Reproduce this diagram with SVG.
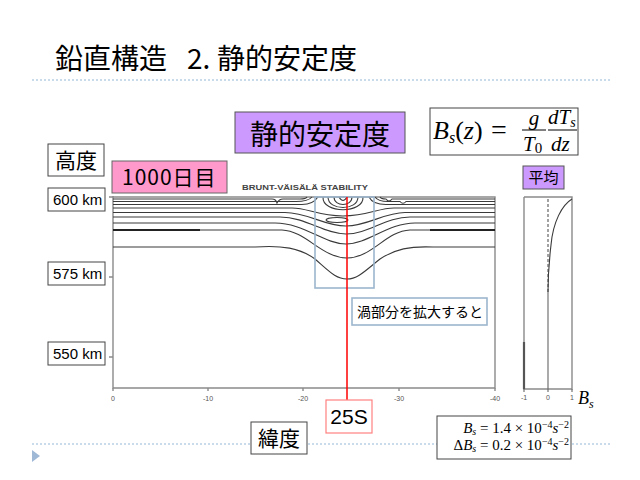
<svg xmlns="http://www.w3.org/2000/svg" width="640" height="480" viewBox="0 0 640 480">
<style>
.jp{font-family:"Noto Sans CJK JP","Noto Sans",sans-serif;fill:#000}
.sans{font-family:"Liberation Sans",Arial,sans-serif;fill:#000}
.math{font-family:"Liberation Serif","DejaVu Serif",serif;fill:#000}
.it{font-style:italic}
.box{fill:#fff;stroke:#444;stroke-width:1}
.purple{fill:#cc99ff;stroke:#555;stroke-width:1}
.pink{fill:#ff99cc;stroke:#666;stroke-width:1}
.bluebox{fill:none;stroke:#9db6cf;stroke-width:1.6}
.dots{stroke:#b9d0e6;stroke-width:1.4;stroke-dasharray:2 2;fill:none}
.axis{stroke:#8a8a8a;stroke-width:1.4;fill:none}
.ct{stroke:#3a3a3a;stroke-width:1.1;fill:none}
.tick{font-family:"Liberation Sans",Arial,sans-serif;font-size:7px;fill:#555;text-anchor:middle}
</style>
<rect width="640" height="480" fill="#fff"/>
<line class="dots" x1="32" y1="80" x2="612" y2="80"/>
<line class="dots" x1="32" y1="444" x2="612" y2="444"/>
<polygon points="32,450 40,456 32,462" fill="#9fb8d6"/>
<g id="title">
<text class="jp" x="55" y="69" font-size="28">鉛直構造</text>
<text class="jp" x="187" y="69" font-size="28">2.</text>
<text class="jp" x="217" y="69" font-size="28">静的安定度</text>
</g>
<g id="plot">
<path class="axis" d="M113,196 V388 H495 V197 H113"/>
<path class="axis" d="M109,197 H113 M109,277 H113 M109,357 H113 M113,388 V391 M208,388 V391 M303,388 V391 M399,388 V391 M495,388 V391"/>
<text class="tick" x="113" y="401">0</text>
<text class="tick" x="208" y="401">-10</text>
<text class="tick" x="303" y="401">-20</text>
<text class="tick" x="399" y="401">-30</text>
<text class="tick" x="495" y="401">-40</text>
<text x="242" y="190" font-family="Liberation Sans,Arial,sans-serif" font-size="7" font-weight="bold" fill="#444" textLength="126" lengthAdjust="spacingAndGlyphs">BRUNT-VÄISÄLÄ STABILITY</text>
<g id="contours">
<path class="ct" d="M113,199 H272 Q276,199 277,203 Q279,199 283,199 H300 Q306,199 307,197"/>
<path class="ct" d="M380,197 Q381,199 386,199 Q389,203 392,199 H495"/>
<path class="ct" d="M113,201.5 H296 Q308,201.5 312,197"/>
<path class="ct" d="M375,197 Q378,201.5 388,201.5 H400 Q403,205 406,201.5 H495"/>
<path class="ct" d="M113,204.5 H302 C312,204.5 316,200 318,197"/>
<path class="ct" d="M369,197 C371,201 375,204.5 386,204.5 H495"/>
<path class="ct" d="M339,197 Q343,204 347,197"/>
<path class="ct" d="M334,197 C334,207 352,207 352,197"/>
<path class="ct" d="M328,197 C328,211 358,211 358,197"/>
<path class="ct" d="M323,197 C322,214 364,214 363,197"/>
<path class="ct" d="M113,208 H292 C308,208 318,216 343,216 C368,216 378,208 394,208 H495"/>
<ellipse class="ct" cx="337" cy="220" rx="11" ry="2.5"/>
<path class="ct" d="M113,212.5 H285 C308,212.5 324,226 346,226 C368,226 384,212.5 405,212.5 H495"/>
<path class="ct" d="M113,217 H280 C306,217 324,234 346,234 C368,234 386,217 410,217 H495"/>
<path class="ct" d="M113,223 H275 C304,223 324,244 346,244 C368,244 388,223 415,223 H495"/>
<path class="ct" d="M113,230 H282 C306,231 322,258 347,258 C372,258 386,231 410,230 H495"/>
<path d="M113,230 H200 M430,230 H495" stroke="#222" stroke-width="2" fill="none"/>
<path class="ct" d="M113,247 H255 C282,245 300,248 315,259 C330,272 336,279 347,279 C358,279 366,270 380,259 C395,249 410,246 433,247 H495"/>
</g>
</g>
<g id="eddy-box"><rect class="bluebox" x="315" y="197" width="59" height="91"/></g>
<g id="connectors">
<line x1="347" y1="197" x2="347" y2="400" stroke="#ff0000" stroke-width="1.5"/>
</g>
<g id="panel">
<path class="axis" d="M524,197 V389 H572 V197 H524"/>
<path d="M524,342 V389" stroke="#555" stroke-width="2.2"/>
<path d="M548,199 V290" stroke="#444" stroke-width="1" stroke-dasharray="3 2"/>
<path d="M548,290 V389 M524,389 V392 M548,389 V392 M572,389 V392" stroke="#666" stroke-width="1.1"/>
<path class="ct" d="M572,199 C562,205 553,222 551,245 C549,262 548,278 548,292"/>
<text class="tick" x="524" y="400">-1</text>
<text class="tick" x="548" y="400">0</text>
<text class="tick" x="572" y="400">1</text>
<text class="math it" x="578" y="404" font-size="18">B<tspan font-size="12" dy="4">s</tspan></text>
</g>
<g id="node-heading"><rect class="purple" x="235" y="112" width="170" height="41"/><text class="jp" x="320" y="145" font-size="28" text-anchor="middle">静的安定度</text></g>
<g id="node-formula">
<rect class="box" x="430" y="108" width="148" height="47"/>
<text class="math" x="433" y="139" font-size="26"><tspan class="it">B</tspan><tspan font-size="16" dy="4" class="it">s</tspan><tspan dy="-4">(</tspan><tspan class="it">z</tspan>)</text>
<text class="math" x="491" y="139" font-size="28">=</text>
<text class="math it" x="534" y="125" font-size="21" text-anchor="middle">g</text>
<line x1="522" y1="130" x2="546" y2="130" stroke="#000" stroke-width="1"/>
<text class="math" x="523" y="151" font-size="21"><tspan class="it">T</tspan><tspan font-size="15" dy="2">0</tspan></text>
<text class="math it" x="548" y="124" font-size="21">dT<tspan font-size="14" dy="3">s</tspan></text>
<line x1="548" y1="130" x2="577" y2="130" stroke="#000" stroke-width="1"/>
<text class="math it" x="551" y="151" font-size="21">dz</text>
</g>
<g id="node-altitude"><rect class="box" x="48" y="144" width="56" height="32"/><text class="jp" x="76" y="168" font-size="21" text-anchor="middle">高度</text></g>
<g id="node-day"><rect class="pink" x="112" y="161" width="115" height="32"/><text class="jp" x="122" y="185" font-size="21" letter-spacing="1">1000日目</text></g>
<g id="node-600"><rect class="box" x="48" y="188" width="57" height="23"/><text class="sans" x="53" y="205" font-size="15">600 km</text></g>
<g id="node-575"><rect class="box" x="48" y="262" width="57" height="23"/><text class="sans" x="53" y="279" font-size="15">575 km</text></g>
<g id="node-550"><rect class="box" x="48" y="342" width="57" height="23"/><text class="sans" x="53" y="359" font-size="15">550 km</text></g>
<g id="node-mean"><rect class="purple" x="523" y="166" width="41" height="23"/><text class="jp" x="543.5" y="183" font-size="15" text-anchor="middle">平均</text></g>
<g id="node-note"><rect x="352" y="298" width="135" height="27" fill="#fff" stroke="#9db6cf" stroke-width="1.6"/><text class="jp" x="357" y="317" font-size="14">渦部分を拡大すると</text></g>
<g id="node-25s"><rect x="326" y="400" width="46" height="33" fill="#fff" stroke="#ff8080" stroke-width="1.2"/><text class="sans" x="349" y="424" font-size="21" text-anchor="middle">25S</text></g>
<g id="node-lat"><rect class="box" x="251" y="422" width="56" height="32"/><text class="jp" x="279" y="446" font-size="21" text-anchor="middle">緯度</text></g>
<g id="node-values">
<rect class="box" x="437" y="416" width="134" height="43"/>
<text class="math" x="569" y="433" font-size="15" text-anchor="end"><tspan class="it">B</tspan><tspan class="it" font-size="10" dy="2">s</tspan><tspan dy="-2"> = 1.4 × 10</tspan><tspan font-size="10" dy="-5">−4</tspan><tspan class="it" font-size="15" dy="5">s</tspan><tspan font-size="10" dy="-5">−2</tspan></text>
<text class="math" x="569" y="450" font-size="15" text-anchor="end">Δ<tspan class="it">B</tspan><tspan class="it" font-size="10" dy="2">s</tspan><tspan dy="-2"> = 0.2 × 10</tspan><tspan font-size="10" dy="-5">−4</tspan><tspan class="it" font-size="15" dy="5">s</tspan><tspan font-size="10" dy="-5">−2</tspan></text>
</g>
</svg>
